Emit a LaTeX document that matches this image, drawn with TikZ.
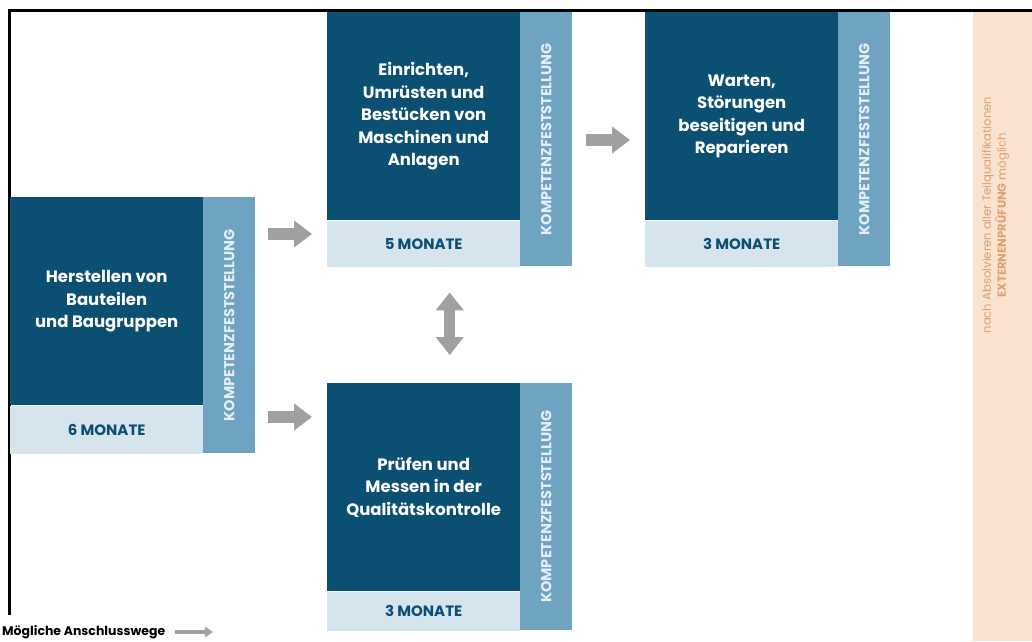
\documentclass[tikz,border=0pt]{standalone}
\usepackage{fontspec}
\setmainfont{Poppins}
\usetikzlibrary{arrows.meta,positioning}
\definecolor{dunkel}{RGB}{11,79,114}
\definecolor{hell}{RGB}{214,228,238}
\definecolor{seite}{RGB}{111,163,194}
\definecolor{seitentext}{RGB}{226,237,245}
\definecolor{grau}{RGB}{160,160,160}
\definecolor{sand}{RGB}{247,227,207}
\definecolor{ocker}{RGB}{226,160,110}
\begin{document}
\begin{tikzpicture}[x=1pt,y=-1pt,
	rahmen/.style={minimum width=245pt,inner sep=0pt,anchor=north west},
	inhalt/.style={fill=dunkel,text=white,font=\bfseries\fontsize{16.5}{22.5}\selectfont,align=center,
		minimum width=193pt,minimum height=208pt,inner sep=0pt,anchor=north west},
	dauer/.style={fill=hell,text=dunkel,font=\bfseries\fontsize{15}{17}\selectfont,
		minimum width=193pt,inner sep=0pt,anchor=north west},
	pruefung/.style={fill=seite,text=seitentext,font=\bfseries\fontsize{14.5}{16}\selectfont,
		rotate=90,minimum height=52pt,inner sep=0pt,anchor=south},
	pfeil/.style={grau,line width=12pt,-{Triangle[width=26pt,length=18pt]}},
	doppelpfeil/.style={grau,line width=11pt,{Triangle[width=27pt,length=18pt]}-{Triangle[width=27pt,length=18pt]}},
	pfeilklein/.style={grau,line width=4pt,-{Triangle[width=10pt,length=8pt]}}]
	\useasboundingbox (0,0) rectangle (1032,641);
	\draw[line width=3pt] (9,615) -- (9,10) -- (1032,10);
	\fill[sand] (973,12) rectangle (1032,641);
	\node[rotate=90,text=ocker,align=center,font=\fontsize{11.6}{15}\selectfont] (hinweis) at (995.5,215)
		{nach Absolvieren aller Teilqualifikationen\\\textbf{EXTERNENPRÜFUNG} möglich};
	
	\node[rahmen,minimum height=256pt] (b1) at (10,197) {};
	\node[inhalt] (b1text) at (b1.north west) {Herstellen von\\Bauteilen\\und Baugruppen};
	\node[dauer,minimum height=48pt] (b1dauer) at (b1text.south west) {6 MONATE};
	\node[pruefung,minimum width=256pt] (b1kf) at (b1.east) {KOMPETENZFESTSTELLUNG};
	
	\node[rahmen,minimum height=254pt] (b2) at (327,12) {};
	\node[inhalt] (b2text) at (b2.north west) {Einrichten,\\Umrüsten und\\Bestücken von\\Maschinen und\\Anlagen};
	\node[dauer,minimum height=46pt] (b2dauer) at (b2text.south west) {5 MONATE};
	\node[pruefung,minimum width=254pt] (b2kf) at (b2.east) {KOMPETENZFESTSTELLUNG};
	
	\node[rahmen,minimum height=254pt] (b3) at (645,12) {};
	\node[inhalt] (b3text) at (b3.north west) {Warten,\\Störungen\\beseitigen und\\Reparieren};
	\node[dauer,minimum height=46pt] (b3dauer) at (b3text.south west) {3 MONATE};
	\node[pruefung,minimum width=254pt] (b3kf) at (b3.east) {KOMPETENZFESTSTELLUNG};
	
	\node[rahmen,minimum height=247pt] (b4) at (327,383) {};
	\node[inhalt] (b4text) at (b4.north west) {Prüfen und\\Messen in der\\Qualitätskontrolle};
	\node[dauer,minimum height=39pt] (b4dauer) at (b4text.south west) {3 MONATE};
	\node[pruefung,minimum width=247pt] (b4kf) at (b4.east) {KOMPETENZFESTSTELLUNG};
	
	\coordinate (h1) at (0,234);
	\coordinate (h2) at (0,417);
	\coordinate (h3) at (0,140);
	\draw[pfeil,shorten <=13pt,shorten >=15pt] (b1.east |- h1) -- (b2.west |- h1);
	\draw[pfeil,shorten <=13pt,shorten >=15pt] (b1.east |- h2) -- (b4.west |- h2);
	\draw[pfeil,shorten <=14pt,shorten >=15pt] (b2.east |- h3) -- (b3.west |- h3);
	\draw[doppelpfeil,shorten <=26pt,shorten >=28pt] (b2.south) -- (b4.north);
	
	\node[anchor=west,inner sep=0pt,font=\bfseries\fontsize{12.5}{14}\selectfont] (legende) at (2,632) {Mögliche Anschlusswege};
	\coordinate (legziel) at (213,632);
	\draw[pfeilklein,shorten <=10pt] (legende.east) -- (legziel);
\end{tikzpicture}
\end{document}
